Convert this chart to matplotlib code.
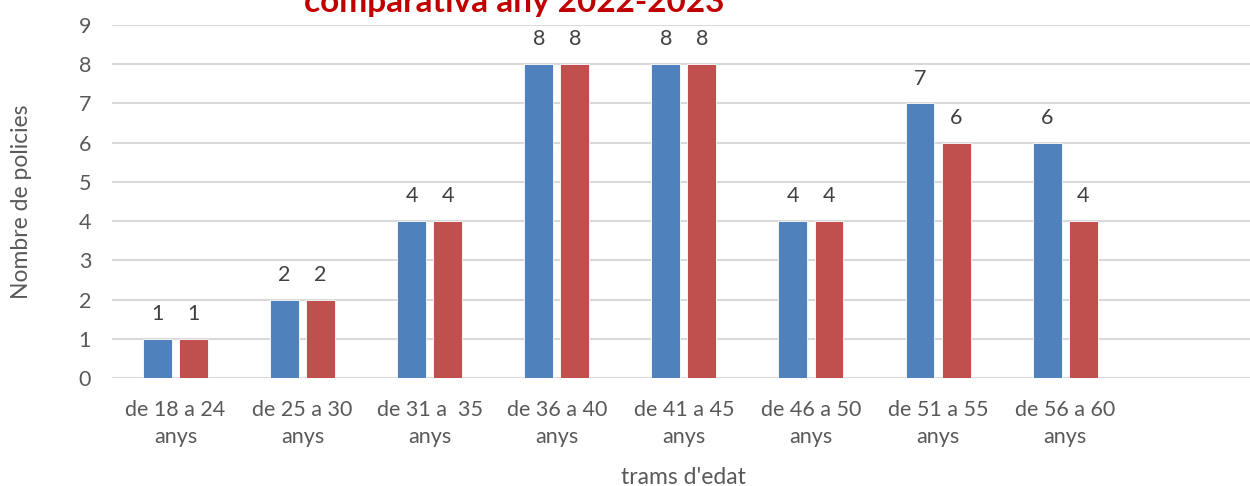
import numpy as np
import matplotlib.pyplot as plt

plt.rcParams['font.family'] = ['Lato', 'DejaVu Sans']

# dades
trams = ['de 18 a 24\nanys', 'de 25 a 30\nanys', 'de 31 a  35\nanys', 'de 36 a 40\nanys',
         'de 41 a 45\nanys', 'de 46 a 50\nanys', 'de 51 a 55\nanys', 'de 56 a 60\nanys', '']
any_2022 = [1, 2, 4, 8, 8, 4, 7, 6]
any_2023 = [1, 2, 4, 8, 8, 4, 6, 4]
yticks = list(range(0, 10))

fig = plt.figure(figsize=(12.5, 4.86), dpi=100)
ax = fig.add_axes([0.0896, 0.2222, 0.915, 0.7264])

x = np.arange(len(any_2022))
w = 0.228
off = 0.142
b1 = ax.bar(x - off, any_2022, w, color='#4F81BD', edgecolor='white', linewidth=0.6, zorder=3)
b2 = ax.bar(x + off, any_2023, w, color='#C0504D', edgecolor='white', linewidth=0.6, zorder=3)

for bars in (b1, b2):
    for b in bars:
        ax.text(b.get_x() + b.get_width() / 2, b.get_height() + 0.38, str(int(b.get_height())),
                ha='center', va='bottom', fontsize=15.5, color='#404040')

ax.set_xlim(-0.5, len(trams) - 0.5)
ax.set_ylim(0, 9)
ax.set_xticks(range(len(trams)))
ax.set_xticklabels(trams, fontsize=15.5, color='#595959', linespacing=1.45)
ax.set_yticks(yticks)
ax.set_yticklabels([str(v) for v in yticks], fontsize=15.5, color='#595959')
ax.tick_params(axis='both', length=0)
ax.tick_params(axis='y', pad=15)
ax.tick_params(axis='x', pad=16)
ax.grid(axis='y', color='#D9D9D9', linewidth=1.5, zorder=0)
for s in ax.spines.values():
    s.set_visible(False)

ax.set_xlabel("trams d'edat", fontsize=16.5, color='#595959', labelpad=14)
fig.text(0.0176, 0.585, 'Nombre de policies', rotation=90, ha='center', va='center',
         fontsize=16.5, color='#595959')

fig.text(0.411, 0.975, 'comparativa any 2022-2023', ha='center', va='baseline',
         fontsize=24, fontweight='bold', color='#C00000')

fig.savefig('out.png', dpi=100)
